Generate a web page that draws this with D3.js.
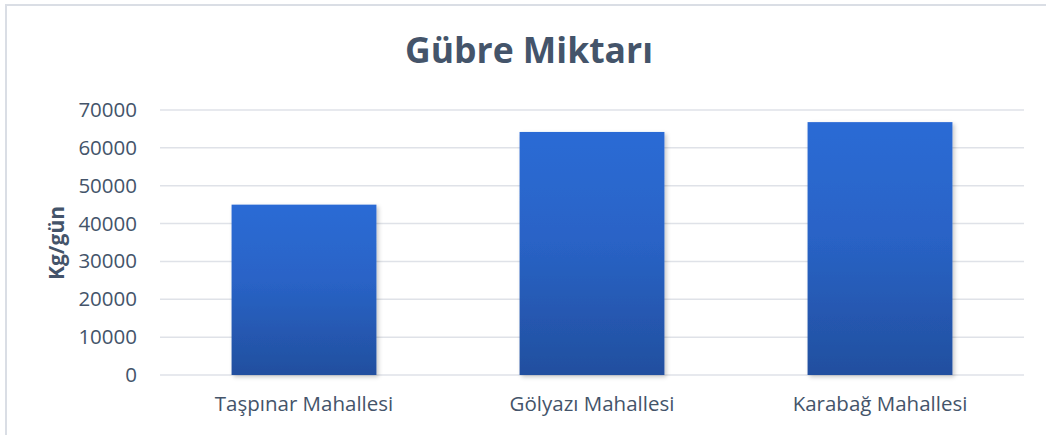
<!DOCTYPE html>
<html>
<head>
<meta charset="utf-8">
<script src="https://cdn.jsdelivr.net/npm/d3@7"></script>
<style>
  html, body { margin: 0; padding: 0; background: #fff; }
  text { font-family: "Open Sans", "Noto Sans", sans-serif; }
</style>
</head>
<body>
<div id="chart"></div>
<script>
// data
const categories = ['Taşpınar Mahallesi', 'Gölyazı Mahallesi', 'Karabağ Mahallesi'];
const values = [45000, 64200, 66800];
const yTicks = [0, 10000, 20000, 30000, 40000, 50000, 60000, 70000];

const width = 1046, height = 435;
const textColor = '#44546a';

const svg = d3.select('#chart')
    .append('svg')
    .attr('width', width)
    .attr('height', height);

const defs = svg.append('defs');
const grad = defs.append('linearGradient')
    .attr('id', 'barGrad')
    .attr('x1', 0).attr('y1', 0).attr('x2', 0).attr('y2', 1);
grad.append('stop').attr('offset', '0%').attr('stop-color', '#2c6bd5');
grad.append('stop').attr('offset', '45%').attr('stop-color', '#2963c6');
grad.append('stop').attr('offset', '100%').attr('stop-color', '#224f9f');

const shadow = defs.append('filter')
    .attr('id', 'shadow')
    .attr('x', '-10%').attr('y', '-10%')
    .attr('width', '130%').attr('height', '130%');
shadow.append('feDropShadow')
    .attr('dx', 2).attr('dy', 2)
    .attr('stdDeviation', 2)
    .attr('flood-color', '#000')
    .attr('flood-opacity', 0.22);

// chart frame
svg.append('rect')
    .attr('x', 6).attr('y', 5)
    .attr('width', 1060).attr('height', 450)
    .attr('fill', 'none')
    .attr('stroke', '#dadee5')
    .attr('stroke-width', 2);

// title
svg.append('text')
    .attr('x', 529)
    .attr('y', 63)
    .attr('text-anchor', 'middle')
    .attr('font-size', '35.5px')
    .attr('font-weight', 'bold')
    .attr('fill', textColor)
    .text('Gübre Miktarı');

const plot = { left: 160, right: 1024, top: 110, bottom: 375 };

const x = d3.scaleBand()
    .domain(categories)
    .range([plot.left, plot.right])
    .paddingInner(0.497)
    .paddingOuter(0.2485);

const y = d3.scaleLinear()
    .domain([0, 70000])
    .range([plot.bottom, plot.top]);

// gridlines
svg.append('g')
    .selectAll('line')
    .data(yTicks)
    .enter()
    .append('line')
    .attr('x1', plot.left)
    .attr('x2', plot.right)
    .attr('y1', d => y(d))
    .attr('y2', d => y(d))
    .attr('stroke', '#dfe2e8')
    .attr('stroke-width', 1.5);

// y axis labels
const yAxis = svg.append('g')
    .attr('transform', `translate(${plot.left}, 0)`)
    .call(d3.axisLeft(y).tickValues(yTicks).tickSize(0).tickPadding(23).tickFormat(d3.format('d')));
yAxis.select('.domain').remove();
yAxis.selectAll('text')
    .attr('font-size', '20.5px')
    .attr('fill', textColor)
    .style('font-family', '"Open Sans", sans-serif');

// bars
svg.append('g')
    .selectAll('rect')
    .data(values)
    .enter()
    .append('rect')
    .attr('x', (d, i) => x(categories[i]))
    .attr('y', d => y(d))
    .attr('width', x.bandwidth())
    .attr('height', d => y(0) - y(d))
    .attr('fill', 'url(#barGrad)')
    .attr('filter', 'url(#shadow)');

// x axis labels
const xAxis = svg.append('g')
    .attr('transform', `translate(0, ${plot.bottom})`)
    .call(d3.axisBottom(x).tickSize(0).tickPadding(21));
xAxis.select('.domain').remove();
xAxis.selectAll('text')
    .attr('font-size', '20.5px')
    .attr('fill', textColor)
    .style('font-family', '"Open Sans", sans-serif');

// y axis title
svg.append('text')
    .attr('transform', `translate(64, 243) rotate(-90)`)
    .attr('text-anchor', 'middle')
    .attr('font-size', '21px')
    .attr('font-weight', 'bold')
    .attr('fill', textColor)
    .text('Kg/gün');
</script>
</body>
</html>
